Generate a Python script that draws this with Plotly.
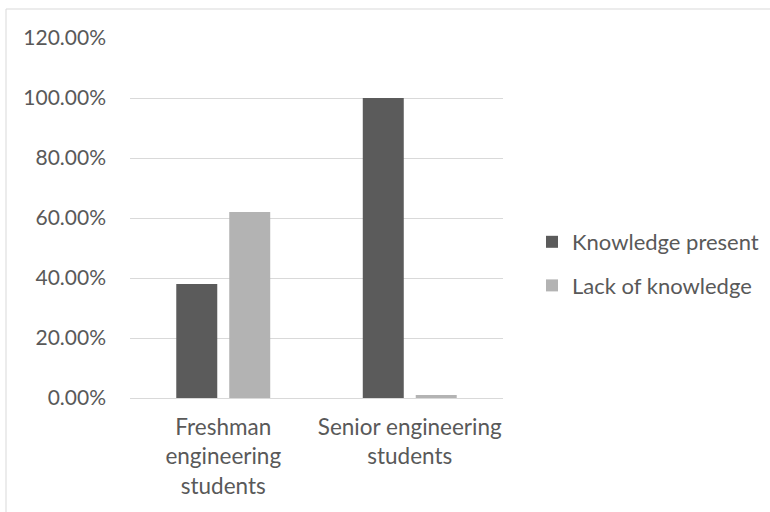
import plotly.graph_objects as go

# Survey results by student group
categories = ["Freshman<br>engineering<br>students", "Senior engineering<br>students"]
knowledge_present = [0.38, 1.00]
lack_of_knowledge = [0.62, 0.01]
y_ticks = [0.0, 0.2, 0.4, 0.6, 0.8, 1.0, 1.2]

FONT = "Lato"
TEXT = "#595959"
GRID = "#d9d9d9"

W, H = 770, 512
L, R, T, B = 130, 267, 38, 114
pw, ph = W - L - R, H - T - B


def px_x(x):
    return (x - L) / pw


def px_y(y):
    return (H - B - y) / ph


fig = go.Figure()
fig.add_trace(go.Bar(
    x=categories, y=knowledge_present, name="Knowledge present",
    marker=dict(color="#5b5b5b", line=dict(width=0)), legendgroup="a",
))
fig.add_trace(go.Bar(
    x=categories, y=lack_of_knowledge, name="Lack of knowledge",
    marker=dict(color="#b3b3b3", line=dict(width=0)), legendgroup="b",
))

# chart-area border
fig.add_shape(type="rect", xref="paper", yref="paper",
              x0=px_x(6), x1=px_x(790), y0=px_y(530), y1=px_y(9),
              line=dict(color=GRID, width=1), fillcolor="rgba(0,0,0,0)", layer="below")

fig.update_layout(
    width=W, height=H,
    margin=dict(l=L, r=R, t=T, b=B, pad=0, autoexpand=False),
    paper_bgcolor="white", plot_bgcolor="white",
    barmode="group", bargap=0.432, bargroupgap=0.226,
    font=dict(family=FONT, color=TEXT, size=21),
    showlegend=True,
    legend=dict(
        x=px_x(532), xanchor="left",
        y=px_y(264), yanchor="middle",
        font=dict(family=FONT, color=TEXT, size=22),
        tracegroupgap=12, traceorder="grouped",
        bgcolor="rgba(0,0,0,0)",
    ),
    xaxis=dict(
        showgrid=False, showline=True, linecolor=GRID, linewidth=1,
        ticks="", tickfont=dict(family=FONT, color=TEXT, size=22.5),
        ticklabelstandoff=9, fixedrange=True, automargin=False,
    ),
    yaxis=dict(
        range=[0, 1.2], tickvals=y_ticks, tickformat=".2%",
        showgrid=True, gridcolor=GRID, gridwidth=1, zeroline=False,
        showline=False, ticks="", ticklabelstandoff=23,
        tickfont=dict(family=FONT, color=TEXT, size=21), fixedrange=True,
        automargin=False,
    ),
)

fig.write_html("out.html")
